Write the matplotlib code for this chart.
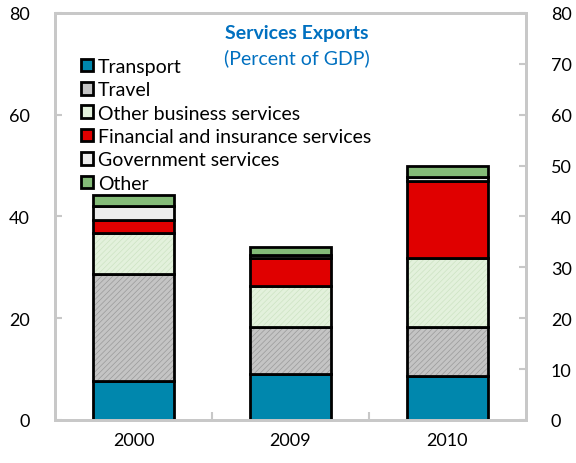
import numpy as np
import matplotlib.pyplot as plt
from matplotlib.patches import Patch

plt.rcParams['font.family'] = ['Lato', 'DejaVu Sans']
plt.rcParams['hatch.linewidth'] = 0.5

years = ['2000', '2009', '2010']
series = ['Transport', 'Travel', 'Other business services',
          'Financial and insurance services', 'Government services', 'Other']
transport = [7.7, 9.0, 8.7]
travel = [21.0, 9.3, 9.6]
other_business = [8.0, 8.0, 13.5]
financial = [2.6, 5.5, 15.2]
government = [2.7, 0.6, 0.7]
other = [2.2, 1.6, 2.3]

values = [transport, travel, other_business, financial, government, other]
colors = ['#0087ad', '#c4c4c4', '#e3f1dc', '#e00000', '#ececec', '#84bb78']
hatches = [None, '//////', '//////', None, None, None]
hatch_cols = [None, '#9a9a9a', '#cde3c3', None, None, None]

fig = plt.figure(figsize=(5.76, 4.64), dpi=100)
ax = fig.add_axes([0.0955, 0.0927, 0.8175, 0.8773])

x = np.arange(len(years))
w = 0.52
bottom = np.zeros(len(years))
handles = []
for vals, c, h, hc, name in zip(values, colors, hatches, hatch_cols, series):
    vals = np.array(vals)
    if h:
        ax.bar(x, vals, w, bottom=bottom, color=c, hatch=h, edgecolor=hc, linewidth=0)
        ax.bar(x, vals, w, bottom=bottom, fill=False, edgecolor='black', linewidth=2)
    else:
        ax.bar(x, vals, w, bottom=bottom, color=c, edgecolor='black', linewidth=2)
    handles.append(Patch(facecolor=c, edgecolor='black', linewidth=2, label=name))
    bottom += vals

ax.set_xlim(-0.5, 2.5)
ax.set_ylim(0, 80)
ax.set_yticks(range(0, 81, 20))
ax.set_xticks(x)
ax.set_xticklabels(years)
ax.set_xticks([0.5, 1.5], minor=True)
ax.tick_params(axis='x', which='major', length=0, labelsize=13, pad=9)
ax.tick_params(axis='x', which='minor', direction='in', length=6, color='#c8c8c8', width=1.5)
ax.tick_params(axis='y', direction='in', length=5, color='#c8c8c8', width=1.5, labelsize=13, pad=18)

ax2 = ax.twinx()
ax2.set_ylim(0, 80)
ax2.set_yticks(range(0, 81, 10))
ax2.tick_params(axis='y', direction='in', length=5, color='#c8c8c8', width=1.5, labelsize=13, pad=18)

for a in (ax, ax2):
    for s in a.spines.values():
        s.set_color('#c8c8c8')
        s.set_linewidth(2)

ax.text(0.513, 0.952, 'Services Exports', transform=ax.transAxes, ha='center', va='center',
        color='#0070c0', fontsize=14, fontweight='bold')
ax.text(0.513, 0.892, '(Percent of GDP)', transform=ax.transAxes, ha='center', va='center',
        color='#0070c0', fontsize=14)

leg = ax.legend(handles=handles, loc='upper left', bbox_to_anchor=(0.055, 0.89), frameon=False,
                fontsize=14, handlelength=0.62, handleheight=0.62, handletextpad=0.26,
                labelspacing=0.33, borderaxespad=0, borderpad=0)

fig.savefig('out.png', dpi=100)
